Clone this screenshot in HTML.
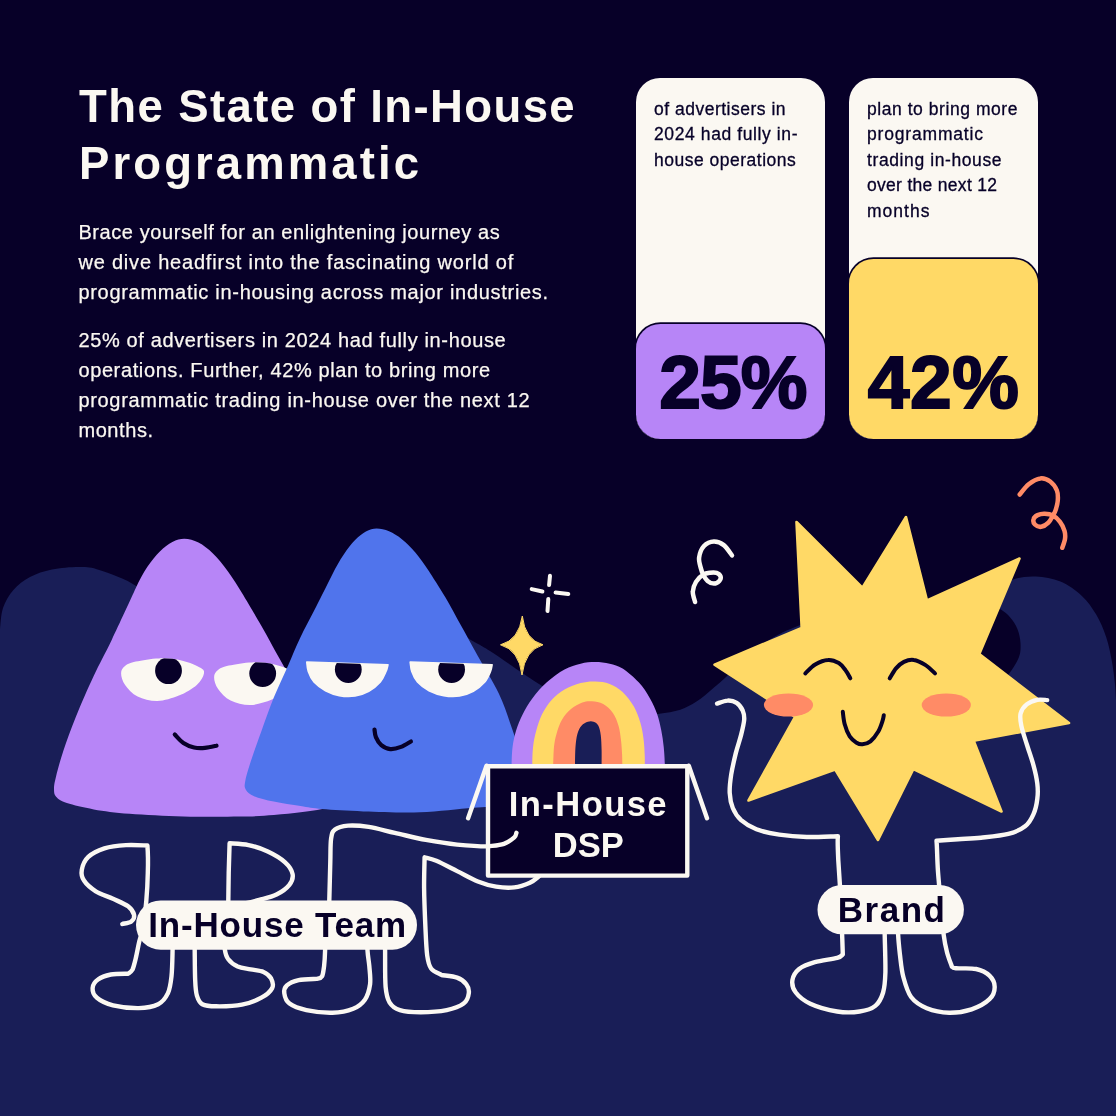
<!DOCTYPE html>
<html lang="en">
<head>
<meta charset="utf-8">
<title>The State of In-House Programmatic</title>
<style>
html,body{margin:0;padding:0;}
body{width:1116px;height:1116px;background:#070028;position:relative;overflow:hidden;font-family:"Liberation Sans",sans-serif;color:#fbf8f2;}
#art{position:absolute;left:0;top:0;width:1116px;height:1116px;}
#art text{font-family:"Liberation Sans",sans-serif;font-weight:bold;}
.t{position:absolute;white-space:nowrap;margin:0;}
h1.t{font-size:45.5px;font-weight:bold;line-height:57.2px;left:79px;top:78px;}
h1 span{display:block;}
.p{font-size:20px;line-height:30px;left:78.4px;letter-spacing:0.6px;-webkit-text-stroke:0.25px #fbf8f2;}
.p span{display:block;}
.card{position:absolute;top:78px;width:189px;height:361px;border-radius:24px;background:#fbf8f2;overflow:hidden;}
.card .fill{position:absolute;left:0;right:0;bottom:0;box-shadow:0 0 0 1.7px #070028;border-radius:24.5px;}
.card .txt{position:absolute;left:18px;top:18.5px;font-size:17.5px;line-height:25.55px;color:#070028;letter-spacing:0.5px;white-space:nowrap;-webkit-text-stroke:0.3px #070028;}
.card .txt span{display:block;}
.card .num{position:absolute;bottom:19.5px;font-size:75px;font-weight:bold;color:#070028;line-height:75px;-webkit-text-stroke:2px #070028;white-space:nowrap;}
</style>
</head>
<body>
<svg id="art" viewBox="0 0 1116 1116">
<path fill="#191e57" d="M0 629 C0.5 625.5 0.8 614.5 3 608 C5.2 601.5 8.9 595.2 13.4 590 C17.9 584.8 23.6 580.4 30 577 C36.4 573.6 43.7 571.2 52 569.5 C60.3 567.8 72 566.9 80 567 C88 567.1 90.5 567 100 570.2 C109.5 573.4 125.9 578.8 136.7 586.3 C147.5 593.8 155.3 603.5 165 615 C174.7 626.5 182.5 640.8 195 655 C207.5 669.2 222.5 692.5 240 700 C257.5 707.5 281.7 708.3 300 700 C318.3 691.7 333.3 667.3 350 650 C366.7 632.7 391.7 605 400 596 C411 602.8 451 627.8 466 637 C481 646.2 478.2 643.4 490 651 C501.8 658.6 523.3 674.2 536.6 682.4 C549.9 690.6 557.8 695.1 570 700 C582.2 704.9 598.3 709.3 610 712 C621.7 714.7 631.8 715.7 640 716 C648.2 716.3 652.7 714.8 659.4 713.7 C666.1 712.7 674.1 711.7 680.3 709.7 C686.5 707.7 691.1 705.1 696.5 701.6 C701.9 698.1 707.8 692.7 712.6 688.7 C717.4 684.7 720.1 682.4 725.5 677.4 C730.9 672.4 737.8 665.2 745 659 C752.2 652.8 760 645.6 769 640 C778 634.4 787.2 630 799 625.5 C810.8 621 823.2 613.6 840 613 C856.8 612.4 881.7 614.2 900 622 C918.3 629.8 936.7 647 950 660 C963.3 673 971.7 696.2 980 700 C988.3 703.8 995.2 687.3 1000 683 C1004.8 678.7 1005.7 678.2 1008.8 674 C1011.9 669.8 1016.8 662.7 1018.8 657.6 C1020.8 652.5 1020.7 648 1020.5 643.2 C1020.3 638.4 1019.1 633.2 1017.4 628.9 C1015.7 624.6 1013 620.6 1010.2 617.4 C1007.5 614.2 1004.3 611.7 1000.9 609.5 C997.5 607.3 991.8 604.9 990 604 C991 601.7 992.2 594.1 996 590 C999.8 585.9 1006.3 581.6 1013 579.4 C1019.7 577.2 1028.1 576.2 1036 576.6 C1043.9 577 1052.8 578.4 1060.4 581.6 C1068.1 584.8 1075.9 590.4 1081.9 595.9 C1087.9 601.4 1092.1 607.7 1096.2 614.6 C1100.3 621.5 1103.7 629.6 1106.3 637.5 C1108.9 645.4 1110.6 654.2 1112 661.9 C1113.4 669.5 1114.2 677 1114.9 683.4 C1115.6 689.8 1115.8 697.2 1116 700 V1116 H0 Z"/>
<path fill="#b785f7" d="M243.4 595.3 C246.4 600.4 255.3 615.2 261.3 625.7 C267.3 636.2 272.8 646.5 279.2 658 C285.6 669.5 291.7 680 300 695 C308.3 710 321.2 733.8 329 748 C336.8 762.2 343.2 772.2 347 780 C350.8 787.8 353.2 791 352 795 C350.8 799 345 801.6 340 804 C335 806.4 328.8 807.7 322.2 809.1 C315.6 810.5 308.7 811.3 300.6 812.3 C292.5 813.3 283.9 814.3 273.8 815 C263.7 815.7 255.1 816.4 240 816.6 C224.9 816.9 201.8 817 183.4 816.5 C165 816 144.5 815 129.6 813.8 C114.7 812.6 104.2 811.2 93.8 809.4 C83.3 807.6 73.2 805.2 66.9 803.1 C60.6 801 58.2 799.2 56.1 796.8 C54 794.4 54 792.1 54 788.7 C54 785.3 54.6 782.5 56.1 776.2 C57.6 769.9 60 761 63.3 751.1 C66.6 741.2 70.7 729.7 75.8 717.1 C80.9 704.5 87.8 688.6 93.8 675.8 C99.8 662.9 104.7 654.6 111.7 640 C118.7 625.4 131.8 596.8 135.8 588.1 C150.6 556.1 169.2 538.8 184.2 538.8 C203.2 538.8 222.2 559.3 243.4 595.3 Z"/>
<clipPath id="pe1"><path d="M121.1 673.2 C121.1 670.1 122.5 667.9 125 666 C127.5 664.1 130.1 662.9 135.8 661.6 C141.5 660.3 151.3 658.5 159.1 658.4 C166.9 658.2 175.5 659.1 182.4 660.7 C189.3 662.3 196.8 665.6 200.4 667.8 C204 670 204.5 670.9 203.9 673.8 C203.3 676.6 201 681.3 196.8 684.9 C192.6 688.5 185.5 692.9 178.9 695.6 C172.3 698.3 164.2 700.9 157.3 701 C150.4 701.1 143 699.2 137.6 696.5 C132.2 693.8 127.8 688.8 125.1 684.9 C122.3 681 121.1 676.4 121.1 673.2 Z"/></clipPath><clipPath id="pe2"><path transform="translate(93 4)" d="M121.1 673.2 C121.1 670.1 122.5 667.9 125 666 C127.5 664.1 130.1 662.9 135.8 661.6 C141.5 660.3 151.3 658.5 159.1 658.4 C166.9 658.2 175.5 659.1 182.4 660.7 C189.3 662.3 196.8 665.6 200.4 667.8 C204 670 204.5 670.9 203.9 673.8 C203.3 676.6 201 681.3 196.8 684.9 C192.6 688.5 185.5 692.9 178.9 695.6 C172.3 698.3 164.2 700.9 157.3 701 C150.4 701.1 143 699.2 137.6 696.5 C132.2 693.8 127.8 688.8 125.1 684.9 C122.3 681 121.1 676.4 121.1 673.2 Z"/></clipPath>
<path fill="#fbf8f2" d="M121.1 673.2 C121.1 670.1 122.5 667.9 125 666 C127.5 664.1 130.1 662.9 135.8 661.6 C141.5 660.3 151.3 658.5 159.1 658.4 C166.9 658.2 175.5 659.1 182.4 660.7 C189.3 662.3 196.8 665.6 200.4 667.8 C204 670 204.5 670.9 203.9 673.8 C203.3 676.6 201 681.3 196.8 684.9 C192.6 688.5 185.5 692.9 178.9 695.6 C172.3 698.3 164.2 700.9 157.3 701 C150.4 701.1 143 699.2 137.6 696.5 C132.2 693.8 127.8 688.8 125.1 684.9 C122.3 681 121.1 676.4 121.1 673.2 Z"/><circle cx="168.5" cy="670.7" r="13.4" fill="#070028" clip-path="url(#pe1)"/>
<path fill="#fbf8f2" transform="translate(93 4)" d="M121.1 673.2 C121.1 670.1 122.5 667.9 125 666 C127.5 664.1 130.1 662.9 135.8 661.6 C141.5 660.3 151.3 658.5 159.1 658.4 C166.9 658.2 175.5 659.1 182.4 660.7 C189.3 662.3 196.8 665.6 200.4 667.8 C204 670 204.5 670.9 203.9 673.8 C203.3 676.6 201 681.3 196.8 684.9 C192.6 688.5 185.5 692.9 178.9 695.6 C172.3 698.3 164.2 700.9 157.3 701 C150.4 701.1 143 699.2 137.6 696.5 C132.2 693.8 127.8 688.8 125.1 684.9 C122.3 681 121.1 676.4 121.1 673.2 Z"/><circle cx="262.7" cy="673.5" r="13.4" fill="#070028" clip-path="url(#pe2)"/>
<path fill="none" stroke="#070028" stroke-width="4.2" stroke-linecap="round" d="M174.8 734.6 C176.2 736 180.2 740.9 183.4 743 C186.6 745.1 190.5 746.7 194.1 747.5 C197.7 748.3 201.2 748.2 204.9 747.9 C208.6 747.6 214.6 746.1 216.5 745.7"/>
<path fill="#5074ec" d="M429 571.3 C431.7 575.6 439.8 588 445.2 597.1 C450.6 606.2 455.9 616.4 461.3 626.1 C466.7 635.8 471.1 644 477.4 655.2 C483.6 666.4 493 681.3 498.8 693.5 C504.6 705.7 508.1 717.4 512 728.5 C515.9 739.6 519.5 750.6 522 760 C524.5 769.4 527.3 778.3 527 785 C526.7 791.7 524.5 796.6 520 800 C515.5 803.4 507.8 804.2 500 805.5 C492.2 806.8 486.3 806.7 473 807.8 C459.7 808.9 438.3 811.7 420 812.3 C401.7 812.9 379.7 811.9 363.4 811.4 C347.1 810.9 332.7 810 322.2 809.1 C311.7 808.2 308.7 807.4 300.6 806.1 C292.5 804.9 281.6 803.2 273.8 801.6 C266.1 800 258.7 798.2 254.1 796.2 C249.5 794.2 247.5 792.3 246 789.9 C244.5 787.5 244.3 786.5 245.1 781.9 C245.8 777.3 247.8 770.6 250.5 762.2 C253.2 753.8 257.3 742.5 261.2 731.7 C265.1 720.9 269.3 708.7 273.8 697.6 C278.3 686.5 283.7 675.3 288.1 665.4 C292.5 655.5 295.3 648 300 638.2 C304.7 628.4 310.7 617.4 316.1 606.8 C321.5 596.2 329.6 579.9 332.3 574.5 C347.5 544.5 362.6 528.5 376.6 528.5 C392.6 528.5 411.4 543.3 429 571.3 Z"/>
<clipPath id="be1"><path d="M306.8 662.1 C307 663.7 307.1 668.2 308.3 671.5 C309.5 674.9 311.2 678.8 314 682 C316.9 685.2 321.3 688.4 325.5 690.7 C329.7 692.9 334.4 694.7 339.3 695.6 C344.2 696.5 350.1 696.7 355.1 696 C360 695.3 364.6 693.6 368.8 691.3 C373.1 688.9 377.4 685.3 380.3 682 C383.1 678.7 384.7 674.4 386 671.5 C387.3 668.7 387.6 666 388 664.8 Z"/></clipPath><clipPath id="be2"><path d="M410.2 662.1 C410.5 663.7 410.6 668.2 411.8 671.5 C413 674.9 414.7 678.8 417.5 682 C420.4 685.2 424.6 688.4 429 690.7 C433.3 692.9 438.7 694.7 443.8 695.6 C448.8 696.5 454.6 696.7 459.5 696 C464.5 695.3 469.1 693.6 473.3 691.3 C477.5 688.9 481.9 685.3 484.8 682 C487.6 678.7 489.3 674.4 490.5 671.5 C491.7 668.7 491.8 666 492.1 664.8 Z"/></clipPath>
<path fill="#fbf8f2" stroke="#fbf8f2" stroke-width="1.6" stroke-linejoin="round" d="M306.8 662.1 C307 663.7 307.1 668.2 308.3 671.5 C309.5 674.9 311.2 678.8 314 682 C316.9 685.2 321.3 688.4 325.5 690.7 C329.7 692.9 334.4 694.7 339.3 695.6 C344.2 696.5 350.1 696.7 355.1 696 C360 695.3 364.6 693.6 368.8 691.3 C373.1 688.9 377.4 685.3 380.3 682 C383.1 678.7 384.7 674.4 386 671.5 C387.3 668.7 387.6 666 388 664.8 Z"/><circle cx="348.3" cy="669.6" r="13.4" fill="#070028" clip-path="url(#be1)"/>
<path fill="#fbf8f2" stroke="#fbf8f2" stroke-width="1.6" stroke-linejoin="round" d="M410.2 662.1 C410.5 663.7 410.6 668.2 411.8 671.5 C413 674.9 414.7 678.8 417.5 682 C420.4 685.2 424.6 688.4 429 690.7 C433.3 692.9 438.7 694.7 443.8 695.6 C448.8 696.5 454.6 696.7 459.5 696 C464.5 695.3 469.1 693.6 473.3 691.3 C477.5 688.9 481.9 685.3 484.8 682 C487.6 678.7 489.3 674.4 490.5 671.5 C491.7 668.7 491.8 666 492.1 664.8 Z"/><circle cx="451.6" cy="669.6" r="13.4" fill="#070028" clip-path="url(#be2)"/>
<path fill="none" stroke="#070028" stroke-width="4.2" stroke-linecap="round" d="M374.5 729.5 C374.7 730.8 374.8 734.5 375.9 737.1 C377 739.7 378.9 743.1 381.3 745.1 C383.7 747.1 387 748.8 390.3 749.1 C393.6 749.4 397.6 748.2 401 746.9 C404.4 745.6 409.2 742.4 410.9 741.5"/>
<path fill="#b785f7" d="M511.6 770.2 C511.6 769.1 511.5 767.6 511.6 763.7 C511.8 759.8 511.8 752.3 512.6 746.8 C513.3 741.3 514.5 736 516.1 730.6 C517.8 725.3 519.9 719.9 522.6 714.5 C525.3 709.1 528.2 703.8 532.3 698.4 C536.3 693 541.4 687.1 546.8 682.3 C552.2 677.4 558.9 672.4 564.5 669.4 C570.2 666.3 575.5 664.9 580.6 663.7 C585.8 662.5 590.3 662.1 595.2 662.1 C600 662.1 605.1 662.6 609.7 663.7 C614.2 664.8 617.7 665.5 622.6 668.5 C627.4 671.6 634.1 677.3 638.7 682.3 C643.3 687.2 646.9 693 650 698.4 C653.1 703.8 655.4 709.1 657.3 714.5 C659.1 719.9 660.2 725.3 661.3 730.6 C662.4 736 663.1 741.3 663.7 746.8 C664.3 752.3 664.7 759.8 664.8 763.7 C665 767.6 664.8 769.1 664.8 770.2 Z"/>
<path fill="#ffd966" d="M532.3 770.2 C532.3 769.1 532.1 767.6 532.3 763.7 C532.4 759.8 532.4 752.3 533.1 746.8 C533.7 741.3 534.8 736 536.3 730.6 C537.8 725.3 539.4 719.6 541.9 714.5 C544.5 709.4 547.8 704.2 551.6 700 C555.4 695.8 559.7 692.3 564.5 689.5 C569.4 686.7 575.5 684.4 580.6 683.1 C585.8 681.7 590.3 681.3 595.2 681.5 C600 681.6 605.1 682.1 609.7 683.9 C614.2 685.6 618.5 688.2 622.6 691.9 C626.6 695.7 630.9 701.3 633.9 706.5 C636.8 711.6 638.7 717.2 640.3 722.6 C641.9 728 642.8 733.3 643.5 738.7 C644.3 744.1 644.5 750.7 644.7 754.8 C644.9 759 644.8 761.2 644.8 763.7 C644.9 766.3 644.8 769.1 644.8 770.2 Z"/>
<path fill="#ff8b66" d="M553.2 770.2 C553.2 769.1 553.1 767.6 553.2 763.7 C553.4 759.8 553.5 751.7 554 746.8 C554.6 741.8 555.1 738.4 556.5 733.9 C557.8 729.3 559.7 723.5 562.1 719.4 C564.5 715.2 567.6 711.7 571 708.9 C574.3 706 578.8 703.7 582.3 702.4 C585.8 701.2 588.4 701 591.9 701.3 C595.4 701.6 599.7 702.1 603.2 704 C606.7 706 610.3 709.3 612.9 712.9 C615.5 716.5 617.2 721.2 618.5 725.8 C619.9 730.4 620.4 735.5 621 740.3 C621.6 745.2 621.9 750.9 622.1 754.8 C622.3 758.7 622.2 761.2 622.3 763.7 C622.3 766.3 622.3 769.1 622.3 770.2 Z"/>
<path fill="#191e57" d="M575 770.2 C575 769.1 574.9 767.6 575 763.7 C575.1 759.8 575.1 751.7 575.5 746.8 C575.9 741.8 576.4 737.4 577.4 733.9 C578.4 730.4 579.7 727.8 581.5 725.8 C583.2 723.8 585.9 722.4 587.9 721.8 C589.9 721.1 591.8 721.1 593.5 721.8 C595.3 722.4 597.2 723.5 598.4 725.8 C599.6 728.1 600.3 731.5 600.8 735.5 C601.3 739.5 601.5 745.3 601.6 750 C601.7 754.7 601.6 760.3 601.6 763.7 C601.6 767.1 601.6 769.1 601.6 770.2 Z"/>
<path fill="#ffd966" stroke="#ffd966" stroke-width="1" stroke-linejoin="round" d="M522.3 616 Q525 640 543 644.8 Q525 650 522 675 Q519 650 500.5 644.8 Q519 640 522.3 616 Z"/>
<path fill="none" stroke="#fbf8f2" stroke-width="4" stroke-linecap="round" d="M550 575.7 L549.1 585.1 M548.3 599 L547.5 611 M531.7 589.1 L542.4 591.5 M555.6 592.4 L568.3 594.1"/>
<path fill="none" stroke="#fbf8f2" stroke-width="4.5" stroke-linecap="round" d="M732 555.4 C730.6 553.7 726.8 547.4 723.8 545.1 C720.8 542.8 717.2 541.4 713.9 541.5 C710.6 541.6 706.5 543.3 704 546 C701.5 548.7 699.6 553.9 699.1 557.6 C698.6 561.3 700.2 565.5 700.9 568.4 C701.6 571.2 702.1 572.6 703.2 574.7 C704.3 576.8 705.8 579.4 707.6 580.9 C709.4 582.4 712 583.6 713.9 583.6 C715.8 583.6 718.2 582.1 719.3 580.9 C720.4 579.7 721 577.8 720.6 576.5 C720.2 575.2 718.3 573.5 716.6 572.9 C714.9 572.3 712.5 572.4 710.3 572.7 C708.1 573 705.6 573.2 703.2 574.7 C700.8 576.2 697.7 579 696 581.8 C694.3 584.6 692.9 588.3 692.8 591.7 C692.6 595.1 694.7 600.3 695.1 602"/>
<path fill="none" stroke="#ff8b66" stroke-width="4.5" stroke-linecap="round" d="M1019.7 494.5 C1021.2 492.8 1025.3 486.9 1028.7 484.2 C1032.1 481.5 1036.7 478.8 1040.3 478.4 C1043.9 477.9 1047.4 479.5 1050.2 481.5 C1053 483.5 1055.6 487.4 1056.9 490.5 C1058.2 493.6 1058 497 1057.8 500.3 C1057.6 503.6 1056.4 507.6 1055.6 510.2 C1054.8 512.8 1054.1 513.5 1052.9 515.6 C1051.7 517.7 1050.4 520.8 1048.4 522.7 C1046.5 524.6 1043.5 526.5 1041.2 526.8 C1039 527.1 1036.2 525.8 1034.9 524.5 C1033.6 523.2 1033.1 520.7 1033.6 519.1 C1034 517.5 1035.7 516 1037.6 515.1 C1039.5 514.2 1042.2 513.7 1044.8 513.8 C1047.3 513.9 1050.4 514.3 1052.9 515.6 C1055.4 516.9 1058.1 519.3 1060 521.8 C1061.9 524.3 1063.7 527.9 1064.5 530.8 C1065.3 533.6 1065.4 536.1 1065 538.9 C1064.6 541.7 1062.8 546.3 1062.3 547.8"/>
<path fill="#ffd966" stroke="#ffd966" stroke-width="2.6" stroke-linejoin="round" d="M796.5 522 L862.4 587.7 L906 517 L927.0 600.5 L1019.5 558.5 L979.3 654.1 L1069 723 L973.7 740.7 L1001.5 811.5 L913.4 769.0 L878 840 L835.2 769.5 L748.5 800.5 L795.1 716.8 L714.5 664.6 L801.7 627.9 Z"/>
<ellipse cx="788.5" cy="705" rx="24.6" ry="11.6" fill="#ff8b66"/><ellipse cx="946.3" cy="705" rx="24.6" ry="11.6" fill="#ff8b66"/>
<path fill="none" stroke="#070028" stroke-width="4" stroke-linecap="round" d="M805.3 673.4 C807 671.9 811.4 666.7 815.2 664.5 C819 662.3 824.1 660.2 828 660 C831.9 659.7 835.9 661.4 838.8 663.1 C841.8 664.9 843.8 667.9 845.7 670.4 C847.7 672.9 849.5 677 850.3 678.3 M889.7 678.3 C890.8 676.7 893.6 671.2 896 668.4 C898.4 665.7 900.9 663.3 903.9 661.9 C906.9 660.5 910.1 659.4 913.8 660 C917.4 660.5 922 662.9 925.6 665.1 C929.1 667.3 933.5 672 935 673.4 M842.8 711.8 C843.1 713.9 843.6 720.5 844.8 724.6 C845.9 728.7 847.7 733.4 849.7 736.4 C851.7 739.5 854.5 741.4 856.6 742.8 C858.7 744.1 860.2 744.6 862.5 744.3 C864.8 744.1 867.8 743.5 870.4 741.4 C873 739.2 876.2 735 878.3 731.5 C880.3 728.1 881.7 723.4 882.6 720.7 C883.5 717.9 883.6 716.1 883.8 715.2"/>
<path fill="none" stroke="#fbf8f2" stroke-width="4.4" stroke-linecap="round" stroke-linejoin="round" d="M122.3 924 C123.8 923.5 129.3 922.9 131.3 921.4 C133.3 919.9 134.6 917.5 134.1 914.9 C133.5 912.4 131.6 909 128.1 906.3 C124.6 903.7 118.4 901.3 113 898.8 C107.6 896.3 100.6 894.3 95.8 891.3 C91 888.2 86.3 884.1 84 880.5 C81.6 877 81.1 873.7 81.8 869.8 C82.5 865.8 84.5 860.5 88.3 856.9 C92 853.3 98.1 850.3 104.4 848.3 C110.7 846.3 118.7 845.5 125.9 845.1 C133.1 844.6 143.8 845.4 147.4 845.5 C147.8 850.1 148.1 863.8 147.8 873 C147.6 882.3 147.1 892 146.3 901 C145.6 909.9 144.3 920 143.1 926.8 C141.9 933.6 140.5 936.5 139.2 941.8 C138 947.2 136.7 954.4 135.6 959 C134.4 963.7 133.6 967.3 132.4 969.8 C131.1 972.2 128.8 973 128.1 973.7 C125.2 973.8 115.9 973.5 110.9 974.5 C105.8 975.5 101 977.2 98 979.5 C94.9 981.7 92.8 985 92.6 988.1 C92.4 991.1 93.5 994.9 96.9 997.7 C100.3 1000.6 106 1003.5 113 1005.3 C120 1007 131.3 1008.2 138.8 1008.1 C146.3 1007.9 153.3 1006.6 158.2 1004.2 C163 1001.8 165.6 998.1 167.8 993.4 C170.1 988.8 170.7 983.6 171.5 976.2 C172.3 968.9 172.4 957.6 172.6 949.4 C172.8 941.1 172.6 930.5 172.6 926.8"/>
<path fill="none" stroke="#fbf8f2" stroke-width="4.4" stroke-linecap="round" stroke-linejoin="round" d="M194.7 926.8 C194.7 930.5 194.7 940.4 194.7 949.4 C194.8 958.3 194.8 972.8 195.2 980.5 C195.5 988.2 195.7 991.6 196.9 995.6 C198.1 999.5 199 1002.4 202.3 1004.2 C205.5 1006 209.6 1006.3 216.2 1006.3 C222.9 1006.4 234.5 1006.1 242 1004.6 C249.6 1003.2 256.4 1000.5 261.4 997.7 C266.4 995 270.5 991.3 272.2 988.1 C273.8 984.8 272.5 981.1 271.1 978.4 C269.6 975.7 267 973.4 263.5 971.9 C260.1 970.4 254.9 970.3 250.6 969.4 C246.3 968.5 241.5 968.3 237.7 966.6 C234 964.8 230.2 961.9 228.1 959 C225.9 956.2 225.6 954.7 224.8 949.4 C224.1 944 223.9 930.5 223.8 926.8"/>
<path fill="none" stroke="#fbf8f2" stroke-width="4.4" stroke-linecap="round" stroke-linejoin="round" d="M228.1 916 C228.2 908.9 228.5 885.1 228.7 873 C229 860.9 229.4 848.3 229.6 843.3 C232.7 843.6 242.1 843.7 248.5 845.1 C254.9 846.4 261.8 848.6 267.8 851.5 C273.9 854.4 280.9 858.5 285.1 862.3 C289.2 866 291.9 870.3 292.6 874.1 C293.3 877.8 292 881.4 289.4 884.8 C286.7 888.2 281.5 892 276.5 894.5 C271.4 897 265 898.3 259.2 899.9 C253.5 901.5 244.9 903.5 242 904.2"/>
<path fill="none" stroke="#fbf8f2" stroke-width="4.4" stroke-linecap="round" stroke-linejoin="round" d="M328.5 919.1 C328.6 916 328.9 910 329.3 900.4 C329.6 890.9 330 872.3 330.3 862 C330.6 851.7 330.3 844 331.1 838.6 C331.9 833.2 332.2 831.7 335 829.5 C337.8 827.3 342.3 826 348 825.6 C353.6 825.2 361 825.7 368.8 826.9 C376.5 828.1 385.2 830.7 394.7 832.9 C404.3 835 415.5 837.9 425.9 839.9 C436.3 841.8 446.7 843.5 457.1 844.6 C467.5 845.6 480.5 846.5 488.3 846.4 C496.1 846.3 499.6 845.3 503.9 843.8 C508.2 842.3 512.2 839.1 514.3 837.3 C516.4 835.5 516 833.6 516.4 832.9"/>
<path fill="none" stroke="#fbf8f2" stroke-width="4.4" stroke-linecap="round" stroke-linejoin="round" d="M325.1 926.9 C325.1 930.8 325.3 943.8 325.1 950.3 C324.9 956.8 324.6 961.6 324.1 965.9 C323.5 970.3 323.2 974.2 322 976.3 C320.8 978.5 317.6 978.5 316.8 978.9 C313.7 979.1 303.6 979.1 298.6 980.2 C293.6 981.3 289.3 983.3 286.9 985.4 C284.5 987.6 283.9 990.2 284.3 993.2 C284.7 996.2 285.8 1000.8 289.5 1003.6 C293.2 1006.4 299.2 1008.6 306.4 1010.1 C313.5 1011.6 324.6 1012.9 332.4 1012.7 C340.2 1012.5 347.7 1011 353.2 1008.8 C358.6 1006.6 362 1003.8 364.9 999.7 C367.7 995.6 369.3 989.7 370.1 984.1 C370.8 978.5 369.7 971.6 369.3 965.9 C368.8 960.3 367.9 956.8 367.5 950.3 C367 943.8 366.8 930.8 366.7 926.9"/>
<path fill="none" stroke="#fbf8f2" stroke-width="4.4" stroke-linecap="round" stroke-linejoin="round" d="M539 876.3 C537.5 877.4 534 880.9 529.9 882.8 C525.8 884.6 519.9 886.8 514.3 887.4 C508.7 888.1 502.2 887.7 496.1 886.7 C490 885.7 484.4 884.1 477.9 881.5 C471.4 878.9 464 874.5 457.1 871.1 C450.2 867.6 441.7 863 436.3 860.7 C430.9 858.4 426.6 857.9 424.6 857.3 C424.5 862.4 424 876.4 424.1 888 C424.2 899.6 424.9 915.7 425.4 926.9 C425.9 938.2 426.3 948.6 427.2 955.5 C428.2 962.5 428.7 965.3 431.1 968.5 C433.5 971.8 439.8 973.9 441.5 975 C444.1 975.5 453 976.1 457.1 977.6 C461.2 979.1 464.3 981.5 466.2 984.1 C468.2 986.7 469.2 990 468.8 993.2 C468.4 996.5 467.3 1000.8 463.6 1003.6 C459.9 1006.4 453.9 1008.7 446.7 1010.1 C439.6 1011.5 428.5 1012.2 420.7 1012.2 C412.9 1012.2 405.1 1011.7 399.9 1010.1 C394.7 1008.5 391.9 1006.2 389.5 1002.3 C387.2 998.4 386.4 995.4 385.6 986.7 C384.9 978.1 385.2 960.3 385.1 950.3 C385 940.4 385.1 930.8 385.1 926.9"/>
<rect x="488" y="766.2" width="199.3" height="109.4" fill="#070028" stroke="#fbf8f2" stroke-width="4.4" stroke-linejoin="round"/>
<path fill="none" stroke="#fbf8f2" stroke-width="4.4" stroke-linecap="round" stroke-linejoin="round" stroke-width="4.4" d="M486.5 765.7 L468.1 818.2 M688.8 765.7 L707 818.2"/>
<path fill="none" stroke="#fbf8f2" stroke-width="4.4" stroke-linecap="round" stroke-linejoin="round" d="M488.3 846.4 C490.9 845.9 499.6 845.3 503.9 843.8 C508.2 842.3 512.2 839.1 514.3 837.3 C516.4 835.5 516 833.6 516.4 832.9"/>
<text x="588.4" y="816" font-size="34.6" text-anchor="middle" fill="#fbf8f2" letter-spacing="1.4">In-House</text>
<text x="588.3" y="856.7" font-size="34.6" text-anchor="middle" fill="#fbf8f2" letter-spacing="0">DSP</text>
<path fill="none" stroke="#fbf8f2" stroke-width="4.4" stroke-linecap="round" stroke-linejoin="round" d="M717.1 703.6 C718.8 703.1 724.2 700.7 727.4 700.6 C730.7 700.4 734 701.2 736.6 702.9 C739.1 704.5 741.4 707.7 742.7 710.5 C743.9 713.3 744.4 715.6 744.2 719.6 C743.9 723.7 742.5 729.3 741.1 734.9 C739.7 740.4 737.5 746.5 735.8 753.1 C734.2 759.7 732.3 767.9 731.2 774.5 C730.2 781.1 729.5 787.2 729.7 792.8 C730 798.3 730.9 803.4 732.8 808 C734.7 812.6 737.2 816.6 741.1 820.2 C745.1 823.7 750 826.9 756.4 829.3 C762.7 831.7 770.9 833.4 779.2 834.7 C787.6 835.9 796.9 836.7 806.7 837 C816.4 837.2 832.7 836.3 837.9 836.2 C837.4 840.2 837.9 852.2 838.3 860.3 C838.8 868.5 839.4 876.8 839.9 885 C840.4 893.2 840.9 901.4 841.2 909.6 C841.6 917.8 841.9 926.8 842.1 934.2 C842.4 941.7 842.7 951 842.8 954.4 C841.9 955 841.9 956.5 837.2 957.8 C832.5 959.1 821.1 960.4 814.8 962.2 C808.5 964.1 802.9 966 799.1 969 C795.4 972 793 976.2 792.4 980.2 C791.8 984.1 792.8 988.6 795.8 992.5 C798.7 996.4 803.4 1000.5 810.3 1003.7 C817.2 1006.9 829 1010.2 837.2 1011.5 C845.4 1012.8 853.3 1012.5 859.6 1011.5 C866 1010.6 871.4 1009.1 875.3 1005.9 C879.2 1002.8 881.4 998.1 883.1 992.5 C884.8 986.9 885.1 982 885.4 972.3 C885.6 962.6 884.9 944.7 884.7 934.2 C884.5 923.8 884.3 913.7 884.2 909.6"/>
<path fill="none" stroke="#fbf8f2" stroke-width="4.4" stroke-linecap="round" stroke-linejoin="round" d="M1047.2 700.1 C1045.6 700.1 1040.8 699.1 1037.3 699.8 C1033.9 700.5 1029.5 702.1 1026.7 704.4 C1023.9 706.7 1021.5 710 1020.6 713.5 C1019.7 717.1 1020.3 720.6 1021.3 725.7 C1022.3 730.8 1024.6 737.4 1026.7 744 C1028.7 750.6 1031.7 758.7 1033.5 765.3 C1035.3 771.9 1036.7 778 1037.3 783.6 C1038 789.2 1038 793.8 1037.3 798.9 C1036.7 803.9 1035.6 809.5 1033.5 814.1 C1031.5 818.7 1029.3 823 1025.1 826.3 C1021 829.6 1015.7 832 1008.4 833.9 C1001 835.8 989.3 836.8 981 837.7 C972.6 838.6 965.5 838.7 958.1 839.2 C950.7 839.7 940.1 840.5 936.5 840.8 C937 845.2 937.2 857.5 937.6 864.8 C937.9 872.1 938.5 877.5 939.1 885 C939.8 892.4 940.6 901.4 941.4 909.6 C942.1 917.8 942.7 927.2 943.6 934.2 C944.5 941.3 945.6 946.8 947 952.2 C948.4 957.6 951.1 964.3 951.9 966.7 C952.6 967 951.9 967.9 955.9 968.3 C960 968.7 970.5 967.7 976.1 969 C981.7 970.2 986.4 972.7 989.5 975.7 C992.6 978.7 994.7 983 994.7 986.9 C994.7 990.8 993.4 995.5 989.5 999.2 C985.7 1002.9 978.3 1007.1 971.6 1009.3 C964.9 1011.5 956.7 1012.8 949.2 1012.7 C941.7 1012.5 933.2 1010.8 926.8 1008.2 C920.5 1005.6 915 1002.2 911.1 997 C907.2 991.7 905.2 983.9 903.3 976.8 C901.4 969.7 900.8 961.5 899.9 954.4 C899.1 947.3 898.5 941.7 898.1 934.2 C897.8 926.8 897.8 913.7 897.7 909.6"/>
<rect x="136" y="900.4" width="281" height="49.3" rx="24.6" fill="#fbf8f2"/>
<text x="148.3" y="937.3" font-size="35" fill="#070028" letter-spacing="0.8">In-House Team</text>
<rect x="817.5" y="885" width="146.4" height="49.3" rx="24.6" fill="#fbf8f2"/>
<text x="837.8" y="922" font-size="35" fill="#070028" letter-spacing="1.5">Brand</text>
</svg>
<h1 class="t"><span style="letter-spacing:1.4px">The State of In-House</span><span style="letter-spacing:3.1px">Programmatic</span></h1>
<p class="t p" style="top:216.5px"><span style="letter-spacing:.58px">Brace yourself for an enlightening journey as</span><span style="letter-spacing:.8px">we dive headfirst into the fascinating world of</span><span style="letter-spacing:.7px">programmatic in-housing across major industries.</span></p>
<p class="t p" style="top:324.5px"><span style="letter-spacing:.64px">25% of advertisers in 2024 had fully in-house</span><span style="letter-spacing:.62px">operations. Further, 42% plan to bring more</span><span style="letter-spacing:.69px">programmatic trading in-house over the next 12</span><span>months.</span></p>
<div class="card" style="left:636px">
  <div class="fill" style="background:#b785f7;height:115.2px"></div>
  <div class="txt"><span>of advertisers in</span><span style="letter-spacing:.6px">2024 had fully in-</span><span>house operations</span></div>
  <div class="num" style="left:23.3px;letter-spacing:-1px">25%</div>
</div>
<div class="card" style="left:849px">
  <div class="fill" style="background:#ffd966;height:179.6px"></div>
  <div class="txt"><span style="letter-spacing:.55px">plan to bring more</span><span style="letter-spacing:.82px">programmatic</span><span style="letter-spacing:.6px">trading in-house</span><span style="letter-spacing:.3px">over the next 12</span><span style="letter-spacing:1px">months</span></div>
  <div class="num" style="left:18.7px;letter-spacing:0.6px">42%</div>
</div>
</body>
</html>
